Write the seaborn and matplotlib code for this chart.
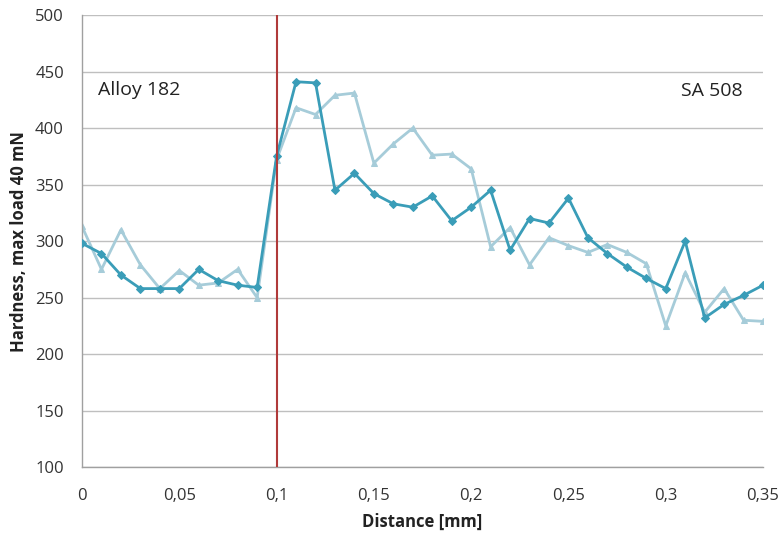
import numpy as np
import pandas as pd
import matplotlib
matplotlib.use("Agg")
import matplotlib.pyplot as plt
import seaborn as sns

distance = [round(0.01 * i, 2) for i in range(36)]
series_dark = [298, 289, 270, 258, 258, 258, 275, 265, 261, 259,
               375, 441, 440, 345, 360, 342, 333, 330, 340, 318,
               330, 345, 292, 320, 316, 338, 303, 289, 277, 267,
               258, 300, 232, 244, 252, 261]
series_light = [313, 275, 310, 279, 258, 274, 261, 263, 275, 250,
                372, 418, 412, 429, 431, 369, 386, 400, 376, 377,
                364, 295, 312, 279, 303, 296, 290, 297, 290, 280,
                225, 272, 237, 258, 230, 229]
xticks = [0, 0.05, 0.1, 0.15, 0.2, 0.25, 0.3, 0.35]
xtick_labels = ["0", "0,05", "0,1", "0,15", "0,2", "0,25", "0,3", "0,35"]
yticks = [100, 150, 200, 250, 300, 350, 400, 450, 500]
interface_x = 0.1

sns.set_theme(style="white")
plt.rcParams['font.family'] = ['Open Sans', 'DejaVu Sans']

df = pd.DataFrame({
    "Distance": distance * 2,
    "Hardness": series_dark + series_light,
    "Series": ["dark"] * len(distance) + ["light"] * len(distance),
})

fig = plt.figure(figsize=(7.81, 5.37), dpi=100)
ax = fig.add_axes([0.105, 0.130, 0.872, 0.842])

for y in yticks:
    ax.axhline(y, color="#bfbfbf", lw=1.0, zorder=0)

sns.lineplot(data=df[df.Series == "light"], x="Distance", y="Hardness",
             color="#a6ccd9", lw=2.0, marker="^", markersize=5,
             markeredgecolor="#a6ccd9", ax=ax, zorder=2)
sns.lineplot(data=df[df.Series == "dark"], x="Distance", y="Hardness",
             color="#3a9db8", lw=2.0, marker="D", markersize=4,
             markeredgecolor="#3a9db8", ax=ax, zorder=3)

ax.axvline(interface_x, color="#b03a3a", lw=1.5, zorder=4)

ax.set_xlim(0, 0.35)
ax.set_ylim(100, 500)
ax.set_xticks(xticks)
ax.set_xticklabels(xtick_labels)
ax.set_yticks(yticks)
ax.tick_params(axis="x", direction="out", length=5, color="#a0a0a0",
               labelsize=12, labelcolor="#333333", pad=10)
ax.tick_params(axis="y", length=0, labelsize=12, labelcolor="#333333", pad=13)

for s in ["top", "right"]:
    ax.spines[s].set_visible(False)
for s in ["left", "bottom"]:
    ax.spines[s].set_color("#a0a0a0")
    ax.spines[s].set_linewidth(1.0)

ax.set_xlabel("Distance [mm]", fontsize=12, fontweight="bold", color="#222222")
ax.set_ylabel("Hardness, max load 40 mN", fontsize=12, fontweight="bold", color="#222222")
ax.xaxis.set_label_coords(0.5, -0.100)
ax.yaxis.set_label_coords(-0.080, 0.5)

ax.text(0.0082, 434, "Alloy 182", fontsize=14, color="#222222", va="center", ha="left")
ax.text(0.3397, 433, "SA 508", fontsize=14, color="#222222", va="center", ha="right")

fig.savefig("out.png", dpi=100)
